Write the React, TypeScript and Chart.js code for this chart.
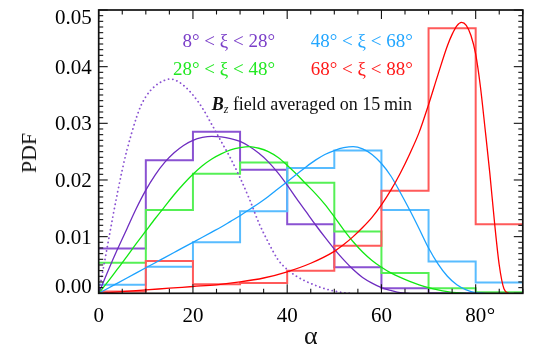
import React, { useEffect, useRef } from 'react';
import { Chart, registerables } from 'chart.js';

Chart.register(...registerables);

// ---------- data ----------
const binEdges = [0, 10, 20, 30, 40, 50, 60, 70, 80, 90];

const histPurple = [0.0079, 0.0235, 0.0285, 0.0218, 0.0122, 0.0046, 0.0009, 0.0, 0.0];
const histGreen = [0.0054, 0.0147, 0.0211, 0.0231, 0.0195, 0.0109, 0.0036, 0.0009, 0.0002];
const histBlue = [0.0015, 0.0047, 0.009, 0.0145, 0.0221, 0.0252, 0.0147, 0.0056, 0.0019];
const histRed = [0.0003, 0.0057, 0.0016, 0.0018, 0.004, 0.0084, 0.0181, 0.0468, 0.0122];

const fitPurpleX = [0, 2, 4, 6, 8, 10, 12, 14, 16, 18, 20, 22, 24, 26, 28, 30, 32, 34, 36, 38, 40, 42, 44, 46, 48, 50, 52, 54, 56, 58, 60, 62, 64, 66];
const fitPurpleY = [0, 0.004, 0.0078, 0.0114, 0.015, 0.0182, 0.0209, 0.0231, 0.0248, 0.0261, 0.027, 0.0275, 0.0277, 0.0276, 0.0273, 0.0268, 0.0259, 0.0247, 0.0232, 0.0213, 0.0191, 0.0167, 0.0144, 0.0121, 0.0099, 0.0078, 0.0059, 0.0042, 0.0028, 0.0018, 0.001, 0.0005, 0.0001, 0];

const fitGreenX = [0, 2, 4, 6, 8, 10, 12, 14, 16, 18, 20, 22, 24, 26, 28, 30, 32, 34, 36, 38, 40, 42, 44, 46, 48, 50, 52, 54, 56, 58, 60, 62, 64, 66, 68, 70, 72, 74, 76, 78];
const fitGreenY = [0, 0.0021, 0.0043, 0.0065, 0.0088, 0.011, 0.0132, 0.0153, 0.0174, 0.0193, 0.021, 0.0225, 0.0237, 0.0246, 0.0253, 0.0257, 0.0259, 0.0256, 0.025, 0.024, 0.0226, 0.021, 0.0193, 0.0176, 0.0157, 0.0135, 0.0112, 0.0091, 0.0073, 0.0058, 0.0046, 0.0036, 0.0028, 0.0021, 0.0015, 0.001, 0.0006, 0.0003, 0.0001, 0];

const fitBlueX = [0, 2, 4, 6, 8, 10, 12, 14, 16, 18, 20, 22, 24, 26, 28, 30, 32, 34, 36, 38, 40, 42, 44, 46, 48, 50, 52, 54, 56, 58, 60, 62, 64, 66, 68, 70, 72, 74, 76, 78, 80, 82];
const fitBlueY = [0, 0.0009, 0.0018, 0.0027, 0.0036, 0.0045, 0.0054, 0.0063, 0.0072, 0.0081, 0.009, 0.0099, 0.0108, 0.0117, 0.0127, 0.0137, 0.0148, 0.0159, 0.0171, 0.0184, 0.0197, 0.021, 0.0223, 0.0235, 0.0245, 0.0252, 0.0257, 0.0259, 0.0255, 0.0245, 0.0229, 0.0207, 0.0178, 0.0147, 0.0114, 0.008, 0.0052, 0.003, 0.0015, 0.0006, 0.0001, 0];

const fitRedX = [0, 5, 10, 15, 20, 25, 30, 35, 40, 45, 50, 52, 54, 56, 58, 60, 62, 64, 66, 68, 70, 72, 74, 75, 76, 77, 78, 79, 80, 81, 82, 83, 84, 85, 86, 87];
const fitRedY = [0, 0.0003, 0.0006, 0.0009, 0.0012, 0.0015, 0.002, 0.0027, 0.0038, 0.0053, 0.0074, 0.0086, 0.01, 0.0116, 0.0134, 0.0156, 0.0182, 0.0212, 0.0246, 0.0284, 0.0333, 0.0386, 0.0437, 0.0457, 0.0472, 0.0478, 0.0473, 0.0455, 0.0422, 0.0365, 0.029, 0.0212, 0.0125, 0.005, 0.0008, 0];

const dottedX = [0, 1, 2, 3, 4, 5, 6, 7, 8, 9, 10, 11, 12, 13, 14, 15, 16, 18, 20, 22, 24, 26, 28, 30, 32, 34, 36, 38, 40, 42, 44, 46, 48, 50, 52, 54];
const dottedY = [0, 0.0045, 0.009, 0.0135, 0.0178, 0.0218, 0.0253, 0.0283, 0.031, 0.0332, 0.0347, 0.0358, 0.0366, 0.0372, 0.0376, 0.0378, 0.0377, 0.0367, 0.035, 0.0327, 0.0298, 0.0268, 0.0238, 0.0204, 0.0166, 0.0124, 0.009, 0.006, 0.0042, 0.003, 0.0021, 0.0014, 0.0008, 0.0004, 0.0001, 0];

const xTickValues = [0, 20, 40, 60, 80];
const xTickLabels = ['0', '20', '40', '60', '80°'];
const yTickValues = [0, 0.01, 0.02, 0.03, 0.04, 0.05];
const yTickLabels = ['0.00', '0.01', '0.02', '0.03', '0.04', '0.05'];

const legendLabels = ['8° < ξ < 28°', '28° < ξ < 48°', '48° < ξ < 68°', '68° < ξ < 88°'];

// ---------- layout / style ----------
const W = 540;
const H = 347;
const PLOT_LEFT = 98.7;
const PLOT_RIGHT = 522.8;
const PLOT_TOP = 10;
const PLOT_BOTTOM = 293.3;
const SERIF = '"Liberation Serif", "Times New Roman", serif';

const C_PURPLE = '#6E2CC0';
const C_PURPLE_H = '#8A52D2';
const C_GREEN = '#12E812';
const C_GREEN_H = '#55F055';
const C_BLUE = '#1CA2FF';
const C_BLUE_H = '#58BCFF';
const C_RED = '#FF0000';
const C_RED_H = '#FF5A5A';

const toPts = (xs: number[], ys: number[]) => xs.map((x, i) => ({ x, y: ys[i] }));
const histPts = (vals: number[]) => {
  const pts: { x: number; y: number }[] = [];
  vals.forEach((v, i) => {
    pts.push({ x: binEdges[i], y: v });
    pts.push({ x: binEdges[i + 1], y: v });
  });
  return pts;
};

const axesPlugin = {
  id: 'idlAxes',
  afterDraw(chart: any) {
    const { ctx, chartArea: a } = chart;
    const xs = chart.scales.x;
    const ys = chart.scales.y;
    ctx.save();
    ctx.strokeStyle = '#111';
    ctx.lineWidth = 1.1;
    const seg = (x1: number, y1: number, x2: number, y2: number) => {
      ctx.beginPath();
      ctx.moveTo(x1, y1);
      ctx.lineTo(x2, y2);
      ctx.stroke();
    };
    for (let v = 0; v <= 90; v += 5) {
      const px = xs.getPixelForValue(v);
      const len = v % 20 === 0 ? 9 : 4.5;
      seg(px, a.bottom, px, a.bottom - len);
      seg(px, a.top, px, a.top + len);
    }
    for (let k = 0; k <= 50; k++) {
      const py = ys.getPixelForValue(k / 1000);
      const len = k % 10 === 0 ? 9 : 4.5;
      seg(a.left, py, a.left + len, py);
      seg(a.right, py, a.right - len, py);
    }
    ctx.lineWidth = 1.7;
    ctx.strokeRect(a.left, a.top, a.right - a.left, a.bottom - a.top);

    ctx.fillStyle = '#000';
    ctx.font = `21px ${SERIF}`;
    ctx.textBaseline = 'alphabetic';
    xTickValues.forEach((v, i) => {
      const px = xs.getPixelForValue(v);
      const lab = xTickLabels[i];
      const main = lab.replace('°', '');
      ctx.textAlign = 'center';
      ctx.fillText(main, px, 321.7);
      if (lab.endsWith('°')) {
        const w = ctx.measureText(main).width;
        ctx.textAlign = 'left';
        ctx.fillText('°', px + w / 2 + 0.5, 321.7);
      }
    });
    ctx.textAlign = 'right';
    yTickValues.forEach((v, i) => {
      const py = ys.getPixelForValue(v);
      const base = Math.min(Math.max(py + 7, a.top + 14.2), a.bottom - 0.6);
      ctx.fillText(yTickLabels[i], 91.7, base);
    });
    ctx.restore();
  },
};

function Txt(props: { x: number; base: number; size: number; color: string; align?: 'left' | 'right' | 'center'; children: any }) {
  const { x, base, size, color, align = 'left', children } = props;
  const style: any = {
    position: 'absolute',
    top: base - 0.8375 * size,
    fontFamily: SERIF,
    fontSize: size,
    lineHeight: `${size}px`,
    whiteSpace: 'nowrap',
    color,
  };
  if (align === 'left') style.left = x;
  else if (align === 'right') style.right = W - x;
  else {
    style.left = x;
    style.transform = 'translateX(-50%)';
  }
  return <div style={style}>{children}</div>;
}

export default function App() {
  const ref = useRef<HTMLCanvasElement | null>(null);
  useEffect(() => {
    if (!ref.current) return;
    const line = (data: any[], color: string, width: number, extra: any = {}) => ({
      type: 'line',
      data,
      borderColor: color,
      backgroundColor: color,
      borderWidth: width,
      pointRadius: 0,
      fill: false,
      ...extra,
    });
    const chart = new Chart(ref.current, {
      type: 'line',
      data: {
        datasets: [
          line(toPts(fitRedX, fitRedY), C_RED, 1.3, { cubicInterpolationMode: 'monotone' }),
          line(toPts(fitBlueX, fitBlueY), C_BLUE, 1.3, { cubicInterpolationMode: 'monotone' }),
          line(toPts(fitGreenX, fitGreenY), C_GREEN, 1.3, { cubicInterpolationMode: 'monotone' }),
          line(toPts(fitPurpleX, fitPurpleY), C_PURPLE, 1.3, { cubicInterpolationMode: 'monotone' }),
          line(toPts(dottedX, dottedY), C_PURPLE_H, 1.8, { cubicInterpolationMode: 'monotone', borderDash: [0.1, 4.2], borderCapStyle: 'round' }),
          line(histPts(histRed), C_RED_H, 2),
          line(histPts(histBlue), C_BLUE_H, 2),
          line(histPts(histGreen), C_GREEN_H, 2),
          line(histPts(histPurple), C_PURPLE_H, 2),
        ] as any,
      },
      options: {
        animation: false,
        responsive: false,
        devicePixelRatio: 1,
        events: [],
        layout: { padding: { left: 0, right: W - PLOT_RIGHT, top: PLOT_TOP, bottom: 0 } },
        plugins: { legend: { display: false }, tooltip: { enabled: false } },
        scales: {
          x: {
            type: 'linear',
            min: 0,
            max: 90,
            grid: { display: false },
            border: { display: false },
            ticks: { display: false },
            afterFit: (s: any) => {
              s.height = H - PLOT_BOTTOM;
            },
          },
          y: {
            type: 'linear',
            min: 0,
            max: 0.05,
            grid: { display: false },
            border: { display: false },
            ticks: { display: false },
            afterFit: (s: any) => {
              s.width = PLOT_LEFT;
            },
          },
        },
      } as any,
      plugins: [axesPlugin],
    });
    return () => chart.destroy();
  }, []);

  return (
    <div style={{ position: 'fixed', left: 0, top: 0, width: W, height: H, background: '#fff', overflow: 'hidden' }}>
      <canvas ref={ref} width={W} height={H} style={{ display: 'block', width: W, height: H }} />
      <Txt x={275} base={46.7} size={19} color="#7A3EC8" align="right">{legendLabels[0]}</Txt>
      <Txt x={275} base={74.5} size={19} color="#22E822" align="right">{legendLabels[1]}</Txt>
      <Txt x={310.7} base={46.7} size={19} color="#22A6FF">{legendLabels[2]}</Txt>
      <Txt x={310.7} base={74.5} size={19} color="#FF1A1A">{legendLabels[3]}</Txt>
      <Txt x={211.7} base={110} size={18} color="#111">
        <b><i>B</i></b>
        <i style={{ fontSize: 12, verticalAlign: -3 }}>z</i> field averaged on 15&#8201;min
      </Txt>
      <Txt x={310.7} base={344.5} size={26} color="#111" align="center">α</Txt>
      <div
        style={{
          position: 'absolute',
          left: 28.9,
          top: 153,
          transform: 'translate(-50%, -50%) rotate(-90deg)',
          fontFamily: SERIF,
          fontSize: 22,
          lineHeight: '22px',
          whiteSpace: 'nowrap',
          color: '#111',
        }}
      >
        PDF
      </div>
    </div>
  );
}
